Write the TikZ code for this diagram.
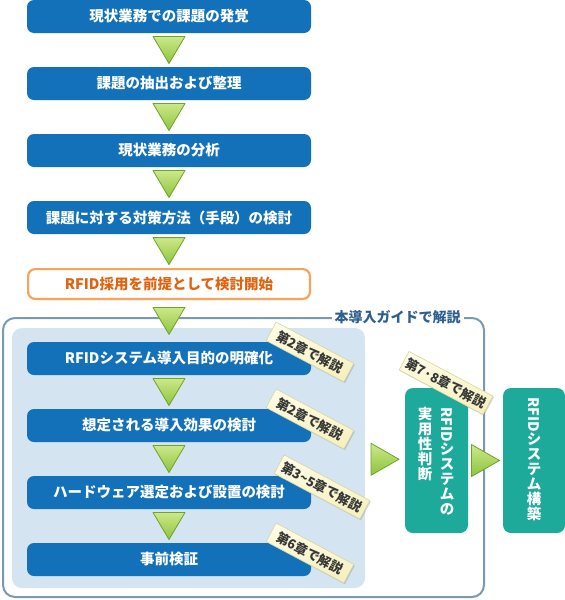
\documentclass[tikz,border=0pt]{standalone}
\usepackage{fontspec}
\setmainfont{Noto Sans CJK JP}
\usetikzlibrary{shadows}
\definecolor{boxblue}{HTML}{1371B9}
\definecolor{tealc}{HTML}{1DAA9A}
\definecolor{panelc}{HTML}{D4E4F1}
\definecolor{framec}{HTML}{7C99B3}
\definecolor{labelc}{HTML}{2D5F8F}
\definecolor{orangeline}{HTML}{F8A25A}
\definecolor{orangetext}{HTML}{E0630F}
\definecolor{trigreen}{HTML}{6FA32A}
\definecolor{trilight}{HTML}{CDE88A}
\definecolor{tridark}{HTML}{8CC43C}
\definecolor{badgeline}{HTML}{D9D5A2}
\definecolor{badgetop}{HTML}{FFFDE8}
\definecolor{badgebot}{HTML}{F4EFBC}
\definecolor{badgetext}{HTML}{363636}
\begin{document}
\begin{tikzpicture}[x=1pt,y=-1pt,
  bbox/.style={rectangle, rounded corners=7pt, fill=boxblue, text=white,
    minimum width=284pt, minimum height=33pt, inner sep=0pt,
    font=\bfseries\fontsize{14.5}{15}\selectfont},
  obox/.style={rectangle, rounded corners=7pt, draw=orangeline, line width=2.2pt,
    fill=white, text=orangetext, minimum width=281.8pt, minimum height=29.8pt,
    inner sep=0pt, font=\bfseries\fontsize{14.5}{15}\selectfont},
  tealbox/.style={rectangle, rounded corners=8pt, fill=tealc, minimum height=145pt, inner sep=0pt},
  vtext/.style={text=white, align=center, inner sep=0pt,
    font=\bfseries\fontsize{14.5}{15}\selectfont},
  badge/.style={rectangle, rotate=-28, draw=badgeline, line width=0.6pt,
    top color=badgetop, bottom color=badgebot, text=badgetext,
    minimum width=#1, minimum height=21pt, inner sep=0pt,
    font=\bfseries\fontsize{13}{13}\selectfont,
    drop shadow={shadow xshift=1pt, shadow yshift=-1.2pt, opacity=0.35}},
  tri/.style={draw=trigreen, line width=0.8pt, line join=round,
    top color=trilight, bottom color=tridark},
  downtri/.pic={\draw[tri] (-16,-13.5) -- (16,-13.5) -- (0,13.5) -- cycle;},
  righttri/.pic={\draw[tri] (-14,-16) -- (14,0) -- (-14,16) -- cycle;}
]
\useasboundingbox (0,0) rectangle (565,600);

% outer frame and label
\node[draw=framec, line width=2pt, rounded corners=12pt, minimum width=481pt,
  minimum height=279pt, inner sep=0pt] (frame) at (243.5,457.5) {};
\node[fill=white, text=labelc, inner sep=3pt,
  font=\bfseries\fontsize{14}{14}\selectfont] (lbl) at (397.5,317) {本導入ガイドで解説};

% inner panel
\node[fill=panelc, rounded corners=10pt, minimum width=353pt, minimum height=260pt,
  inner sep=0pt] (panel) at (188.5,458) {};

% upper flow
\node[bbox] (b1) at (169,16.5) {現状業務での課題の発覚};
\node[bbox] (b2) at (169,83.5) {課題の抽出および整理};
\node[bbox] (b3) at (169,150.5) {現状業務の分析};
\node[bbox] (b4) at (169,217.5) {課題に対する対策方法（手段）の検討};
\node[obox] (b5) at (169,284) {RFID採用を前提として検討開始};

% inner flow
\node[bbox] (c1) at (169,358.5) {RFIDシステム導入目的の明確化};
\node[bbox] (c2) at (169,425.5) {想定される導入効果の検討};
\node[bbox] (c3) at (169,492.5) {ハードウェア選定および設置の検討};
\node[bbox] (c4) at (169,559.5) {事前検証};

% teal boxes
\node[tealbox, minimum width=63pt] (t1) at (436.5,460.5) {};
\node[tealbox, minimum width=62pt] (t2) at (534,460.5) {};
\node[vtext, anchor=north] (t1r) at (447,407) {\rotatebox{-90}{RFID}\\シ\\ス\\テ\\ム\\の};
\node[vtext, anchor=north] (t1l) at (425,407) {実\\用\\性\\判\\断};
\node[vtext, anchor=north] (t2t) at (534,397) {\rotatebox{-90}{RFID}\\シ\\ス\\テ\\ム\\構\\築};

% connectors (triangles)
\path (b1.south) -- (b2.north) coordinate[midway] (a1);
\path (b2.south) -- (b3.north) coordinate[midway] (a2);
\path (b3.south) -- (b4.north) coordinate[midway] (a3);
\path (b4.south) -- (b5.north) coordinate[midway] (a4);
\path (b5.south) -- (c1.north) coordinate[midway] (a5);
\path (c1.south) -- (c2.north) coordinate[midway] (a6);
\path (c2.south) -- (c3.north) coordinate[midway] (a7);
\path (c3.south) -- (c4.north) coordinate[midway] (a8);
\path (panel.east) -- (t1.west) coordinate[midway] (r1);
\path (t1.east) -- (t2.west) coordinate[midway] (r2);
\foreach \p in {a1,a2,a3,a4,a5,a6,a7,a8} { \pic at (\p) {downtri}; }
\pic at (r1) {righttri};
\pic at (r2) {righttri};

% badges
\node[badge=88pt] (g1) at (310,352) {第2章で解説};
\node[badge=88pt] (g2) at (310,419) {第2章で解説};
\node[badge=97pt] (g3) at (322,487) {第3\textasciitilde5章で解説};
\node[badge=88pt] (g4) at (310,553) {第6章で解説};
\node[badge=95pt] (g5) at (446,383) {第7·8章で解説};
\end{tikzpicture}
\end{document}
